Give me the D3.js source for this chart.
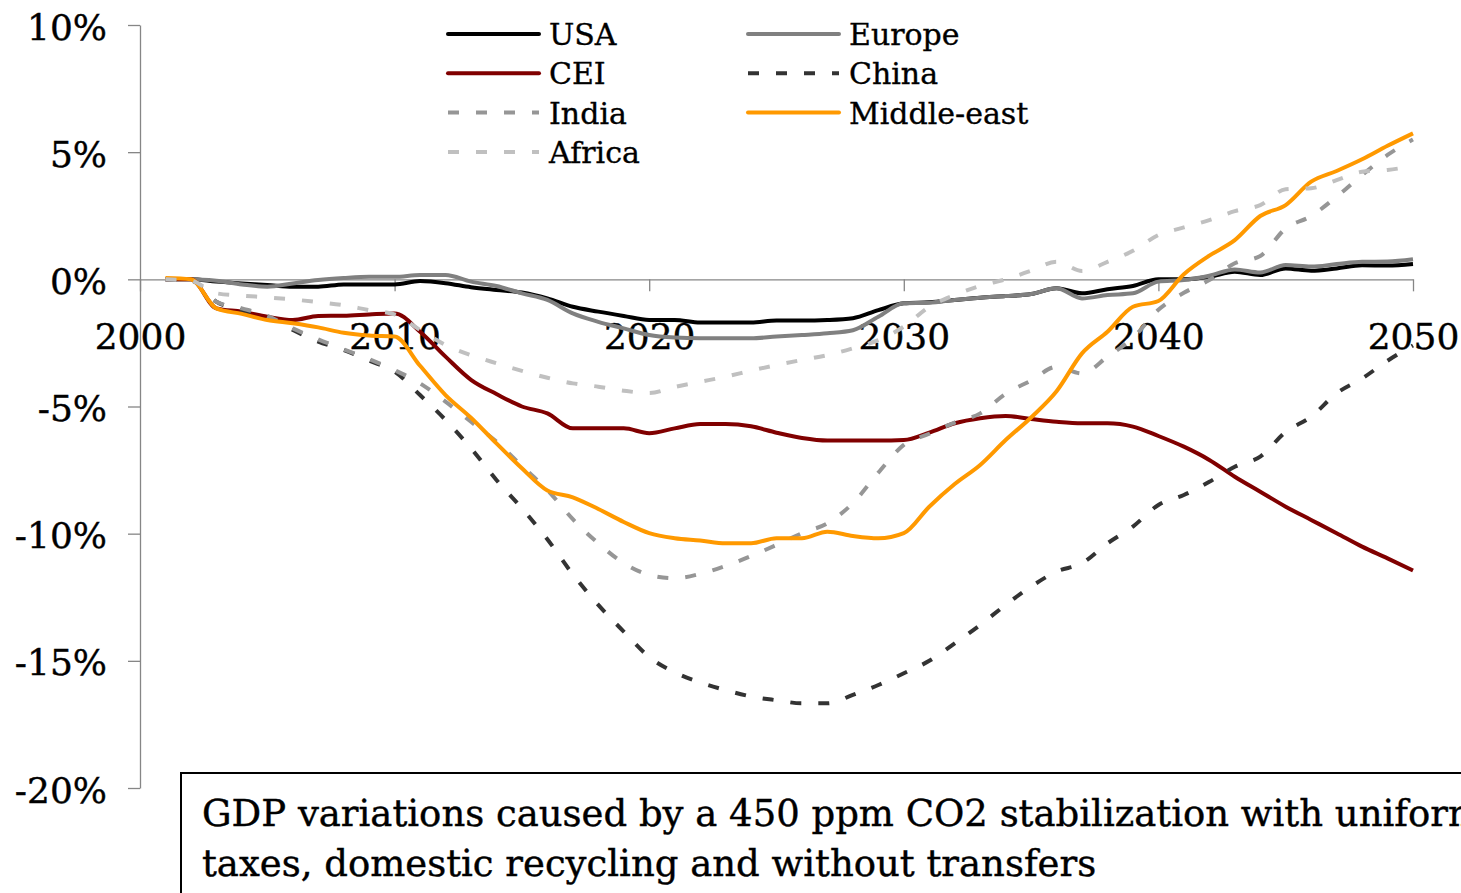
<!DOCTYPE html>
<html>
<head>
<meta charset="utf-8">
<script src="https://d3js.org/d3.v7.min.js"></script>
<style>
  body { margin: 0; background: #ffffff; }
  svg { display: block; }
</style>
</head>
<body>
<svg id="gdp_chart"></svg>
<script>
// years of the scenario (x values)
var years = [2001, 2002, 2003, 2004, 2005, 2006, 2007, 2008, 2009, 2010,
             2011, 2012, 2013, 2014, 2015, 2016, 2017, 2018, 2019, 2020,
             2021, 2022, 2023, 2024, 2025, 2026, 2027, 2028, 2029, 2030,
             2031, 2032, 2033, 2034, 2035, 2036, 2037, 2038, 2039, 2040,
             2041, 2042, 2043, 2044, 2045, 2046, 2047, 2048, 2049, 2050];

// GDP variation in % for each region
var usa = [0, 0, -0.09, -0.16, -0.22, -0.29, -0.29, -0.2, -0.2, -0.2,
           -0.07, -0.15, -0.31, -0.42, -0.52, -0.75, -1.08, -1.27, -1.44, -1.6,
           -1.6, -1.7, -1.7, -1.7, -1.62, -1.62, -1.6, -1.53, -1.21, -0.94,
           -0.9, -0.81, -0.72, -0.66, -0.58, -0.35, -0.55, -0.39, -0.26, 0.0,
           0.0, 0.1, 0.3, 0.17, 0.43, 0.34, 0.43, 0.55, 0.54, 0.6];
var europe = [0, 0, -0.06, -0.2, -0.29, -0.16, -0.03, 0.05, 0.1, 0.1,
              0.17, 0.17, -0.09, -0.26, -0.55, -0.81, -1.34, -1.67, -1.93, -2.19,
              -2.29, -2.32, -2.32, -2.32, -2.25, -2.19, -2.12, -2.0, -1.47, -0.94,
              -0.92, -0.81, -0.72, -0.66, -0.58, -0.35, -0.75, -0.62, -0.55, -0.09,
              -0.03, 0.14, 0.39, 0.27, 0.56, 0.5, 0.6, 0.69, 0.7, 0.79];
var cei = [0, 0, -1.14, -1.27, -1.47, -1.6, -1.44, -1.43, -1.38, -1.34,
           -2.06, -3.04, -3.95, -4.51, -5.0, -5.27, -5.86, -5.86, -5.86, -6.05,
           -5.86, -5.69, -5.69, -5.78, -6.03, -6.24, -6.34, -6.34, -6.34, -6.32,
           -6.03, -5.66, -5.46, -5.37, -5.49, -5.6, -5.66, -5.66, -5.79, -6.16,
           -6.58, -7.1, -7.76, -8.35, -8.94, -9.46, -9.98, -10.51, -10.97, -11.45];
var china = [0, -0.05, -0.88, -1.21, -1.47, -1.99, -2.45, -2.78, -3.2, -3.63,
             -4.55, -5.53, -6.64, -7.89, -9.0, -10.22, -11.6, -12.8, -13.85, -14.85,
             -15.45, -15.85, -16.15, -16.4, -16.55, -16.67, -16.67, -16.34, -15.95, -15.49,
             -15.0, -14.31, -13.59, -12.8, -12.08, -11.49, -11.16, -10.38, -9.72, -8.87,
             -8.48, -7.96, -7.37, -6.97, -6.0, -5.4, -4.48, -3.9, -3.2, -2.6];
var india = [0, -0.05, -0.88, -1.14, -1.44, -1.93, -2.36, -2.75, -3.14, -3.57,
             -4.09, -4.81, -5.6, -6.38, -7.34, -8.28, -9.43, -10.38, -11.16, -11.62,
             -11.75, -11.58, -11.27, -10.88, -10.44, -9.98, -9.59, -8.8, -7.6, -6.51,
             -6.07, -5.63, -5.27, -4.5, -3.98, -3.44, -3.7, -3.04, -2.3, -1.2,
             -0.53, -0.03, 0.63, 0.92, 2.0, 2.49, 3.25, 4.1, 4.89, 5.5];
var middleEast = [0.05, 0.0, -1.14, -1.36, -1.6, -1.73, -1.89, -2.1, -2.21, -2.25,
                  -3.4, -4.55, -5.44, -6.45, -7.43, -8.3, -8.57, -9.03, -9.54, -9.98,
                  -10.18, -10.27, -10.38, -10.38, -10.18, -10.18, -9.92, -10.09, -10.18, -9.98,
                  -8.94, -8.05, -7.3, -6.32, -5.43, -4.4, -2.91, -2.06, -1.08, -0.85,
                  0.2, 0.93, 1.54, 2.49, 2.92, 3.84, 4.26, 4.72, 5.25, 5.74];
var africa = [0, -0.05, -0.55, -0.64, -0.71, -0.79, -0.9, -1.02, -1.21, -1.38,
              -1.99, -2.58, -2.98, -3.3, -3.6, -3.87, -4.09, -4.22, -4.38, -4.47,
              -4.23, -4.03, -3.83, -3.59, -3.37, -3.17, -2.98, -2.71, -2.39, -1.86,
              -1.08, -0.62, -0.26, 0.0, 0.34, 0.69, 0.33, 0.69, 1.12, 1.74,
              2.04, 2.33, 2.68, 2.92, 3.54, 3.58, 3.9, 4.23, 4.3, 4.45];

// axis ticks
var yTicks = [10, 5, 0, -5, -10, -15, -20];
var xTicks = [2000, 2010, 2020, 2030, 2040, 2050];

var noteLines = ["GDP variations caused by a 450 ppm CO2 stabilization with uniform",
                 "taxes, domestic recycling and without transfers"];

// series in legend / drawing order
var series = [
  {name: "USA", values: usa, color: "#000000", dash: null},
  {name: "Europe", values: europe, color: "#808080", dash: null},
  {name: "CEI", values: cei, color: "#800000", dash: null},
  {name: "China", values: china, color: "#333333", dash: "11,17"},
  {name: "India", values: india, color: "#969696", dash: "11,17"},
  {name: "Middle-east", values: middleEast, color: "#ff9900", dash: null},
  {name: "Africa", values: africa, color: "#c0c0c0", dash: "11,17"}
];

var W = 1461, H = 893;
var margin = {top: 25, right: 48, bottom: 105, left: 140};
var serif = "'DejaVu Serif', serif";

var svg = d3.select("#gdp_chart")
    .attr("width", W)
    .attr("height", H);

var x = d3.scaleLinear()
    .domain([2000, 2050])
    .range([margin.left, W - margin.right]);

var y = d3.scaleLinear()
    .domain([-20, 10])
    .range([H - margin.bottom, margin.top]);

// Y axis
var yAxis = svg.append("g")
    .attr("transform", "translate(" + margin.left + ",0)")
    .call(d3.axisLeft(y)
      .tickValues(yTicks)
      .tickSize(12)
      .tickSizeOuter(0)
      .tickPadding(21)
      .tickFormat(function(d) { return d + "%"; }));

// X axis on the zero line
var xAxis = svg.append("g")
    .attr("transform", "translate(0," + y(0) + ")")
    .call(d3.axisBottom(x)
      .tickValues(xTicks)
      .tickSize(12)
      .tickSizeOuter(0)
      .tickPadding(32)
      .tickFormat(d3.format("d")));

[yAxis, xAxis].forEach(function(ax) {
  ax.selectAll("path, line")
    .attr("stroke", "#868686")
    .attr("stroke-width", 1.3);
  ax.selectAll("text")
    .attr("fill", "#000")
    .attr("stroke", "#000")
    .attr("stroke-width", 0.4)
    .style("font-family", serif)
    .style("font-size", "36px");
});
yAxis.selectAll("text").attr("dy", "0.39em");

// lines
var line = d3.line()
    .x(function(d) { return x(d.year); })
    .y(function(d) { return y(d.value); })
    .curve(d3.curveMonotoneX);

svg.append("g")
  .selectAll("path")
  .data(series)
  .enter()
  .append("path")
    .attr("fill", "none")
    .attr("stroke", function(d) { return d.color; })
    .attr("stroke-width", 4)
    .attr("stroke-linejoin", "round")
    .attr("stroke-dasharray", function(d) { return d.dash; })
    .attr("d", function(d) {
      return line(d.values.map(function(v, i) { return {year: years[i], value: v}; }));
    });

// legend, two columns
var legend = svg.append("g");
var items = legend.selectAll("g")
  .data(series)
  .enter()
  .append("g")
    .attr("transform", function(d, i) {
      return "translate(" + (448 + (i % 2) * 300) + "," + (34 + Math.floor(i / 2) * 39.3) + ")";
    });

items.append("line")
    .attr("x1", 0)
    .attr("x2", 91)
    .attr("stroke", function(d) { return d.color; })
    .attr("stroke-width", 4)
    .attr("stroke-linecap", function(d) { return d.dash ? "butt" : "round"; })
    .attr("stroke-dasharray", function(d) { return d.dash; });

items.append("text")
    .attr("x", 101)
    .attr("y", 11)
    .attr("stroke", "#000")
    .attr("stroke-width", 0.35)
    .style("font-family", serif)
    .style("font-size", "30px")
    .text(function(d) { return d.name; });

// note box
var note = svg.append("g");
note.append("rect")
    .attr("x", 181)
    .attr("y", 773)
    .attr("width", 1400)
    .attr("height", 300)
    .attr("fill", "#fff")
    .attr("stroke", "#000")
    .attr("stroke-width", 2);

note.selectAll("text")
  .data(noteLines)
  .enter()
  .append("text")
    .attr("x", 202)
    .attr("y", function(d, i) { return 826 + i * 50; })
    .attr("stroke", "#000")
    .attr("stroke-width", 0.4)
    .style("font-family", serif)
    .style("font-size", "37px")
    .text(function(d) { return d; });
</script>
</body>
</html>
